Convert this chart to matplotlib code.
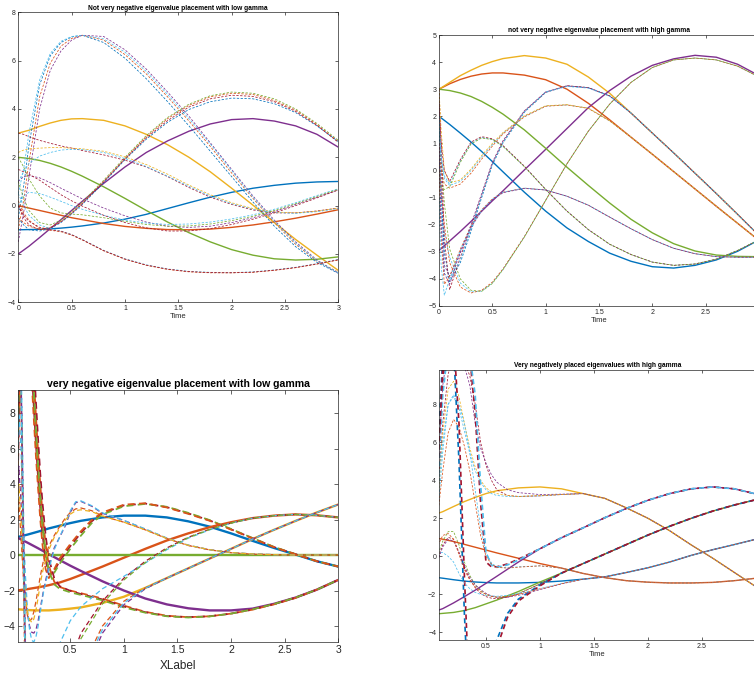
import matplotlib
matplotlib.use("Agg")
import matplotlib.pyplot as plt

plt.rcParams['font.family'] = ['Liberation Sans', 'DejaVu Sans']

# MATLAB default colour order
C_BLUE, C_ORANGE, C_YELLOW = '#0072BD', '#D95319', '#EDB120'
C_PURPLE, C_GREEN, C_LBLUE, C_RED = '#7E2F8E', '#77AC30', '#4DBEEE', '#A2142F'

# ---------------- common time grid of the true states ----------------
t_true = [0, 0.1, 0.2, 0.3, 0.4, 0.5, 0.6, 0.8, 1.0, 1.2, 1.4, 1.6, 1.8, 2.0, 2.2, 2.4, 2.6, 2.8, 3.0]

# ---------------- panel 1 : not very negative, low gamma ----------------
p1_blue   = [-1.0, -0.99, -0.98, -0.96, -0.93, -0.89, -0.84, -0.72, -0.56, -0.36, -0.12, 0.12, 0.35, 0.55, 0.72, 0.84, 0.93, 0.98, 1.0]
p1_orange = [0.0, -0.1, -0.2, -0.3, -0.4, -0.5, -0.58, -0.74, -0.86, -0.94, -0.99, -1.0, -0.97, -0.9, -0.8, -0.67, -0.52, -0.35, -0.17]
p1_yellow = [3.0, 3.12, 3.28, 3.42, 3.53, 3.59, 3.6, 3.53, 3.3, 2.95, 2.52, 2.0, 1.4, 0.72, 0.02, -0.7, -1.4, -2.05, -2.68]
p1_purple = [-2.0, -1.68, -1.32, -0.95, -0.58, -0.2, 0.18, 0.92, 1.6, 2.2, 2.68, 3.08, 3.38, 3.56, 3.6, 3.5, 3.3, 2.95, 2.42]
p1_green  = [2.0, 1.95, 1.87, 1.75, 1.6, 1.42, 1.22, 0.78, 0.3, -0.2, -0.68, -1.12, -1.5, -1.82, -2.05, -2.2, -2.25, -2.22, -2.12]

t_est1 = [0, 0.05, 0.1, 0.2, 0.3, 0.4, 0.5, 0.6, 0.8, 1.0, 1.2, 1.4, 1.6, 1.8, 2.0, 2.2, 2.4, 2.6, 2.8, 3.0]
p1_A1 = [-0.5, 0.8, 2.5, 5.0, 6.2, 6.75, 6.98, 7.05, 6.75, 6.1, 5.25, 4.3, 3.3, 2.25, 1.2, 0.15, -0.85, -1.7, -2.35, -2.8]
p1_A2 = [-1.0, 0.2, 1.8, 4.5, 5.9, 6.6, 6.92, 7.05, 6.85, 6.25, 5.45, 4.5, 3.5, 2.45, 1.35, 0.3, -0.7, -1.6, -2.3, -2.75]
p1_A3 = [-1.5, -0.3, 1.2, 4.0, 5.6, 6.4, 6.85, 7.05, 7.0, 6.45, 5.65, 4.7, 3.7, 2.6, 1.5, 0.4, -0.6, -1.5, -2.25, -2.8]
p1_A4 = [0.5, 1.5, 3.0, 5.2, 6.3, 6.8, 7.0, 7.05, 6.9, 6.35, 5.55, 4.6, 3.6, 2.55, 1.45, 0.35, -0.65, -1.55, -2.28, -2.78]
p1_B1 = [1.0, 0.3, -0.2, -0.7, -0.8, -0.6, -0.25, 0.15, 1.05, 2.0, 2.9, 3.65, 4.2, 4.55, 4.7, 4.65, 4.42, 4.0, 3.4, 2.7]
p1_B2 = [0.2, -0.3, -0.6, -0.95, -0.9, -0.65, -0.3, 0.1, 1.0, 1.95, 2.85, 3.6, 4.15, 4.5, 4.65, 4.6, 4.35, 3.95, 3.35, 2.65]
p1_B3 = [-0.5, -0.8, -1.0, -1.05, -0.95, -0.7, -0.35, 0.05, 0.95, 1.9, 2.75, 3.45, 3.98, 4.3, 4.45, 4.42, 4.22, 3.85, 3.3, 2.65]
p1_B4 = [0.0, -0.5, -0.8, -1.0, -0.92, -0.68, -0.32, 0.08, 0.98, 1.93, 2.8, 3.52, 4.08, 4.42, 4.57, 4.52, 4.3, 3.9, 3.32, 2.62]
p1_C1 = [3.0, 2.95, 2.85, 2.7, 2.58, 2.47, 2.38, 2.28, 2.1, 1.88, 1.6, 1.2, 0.75, 0.35, 0.05, -0.18, -0.3, -0.3, -0.22, -0.1]
p1_C2 = [1.0, 1.4, 1.75, 2.05, 2.2, 2.3, 2.33, 2.32, 2.2, 1.95, 1.62, 1.22, 0.8, 0.4, 0.08, -0.15, -0.28, -0.32, -0.25, -0.12]
p1_C3 = [2.2, 2.3, 2.35, 2.38, 2.4, 2.4, 2.38, 2.35, 2.25, 2.02, 1.7, 1.3, 0.85, 0.45, 0.12, -0.12, -0.26, -0.3, -0.23, -0.1]
p1_D1 = [0.5, 0.0, -0.4, -0.8, -0.95, -1.05, -1.2, -1.4, -1.85, -2.2, -2.45, -2.62, -2.72, -2.76, -2.77, -2.74, -2.66, -2.55, -2.4, -2.22]
p1_D2 = [-0.5, -0.7, -0.85, -0.98, -1.02, -1.08, -1.22, -1.42, -1.87, -2.22, -2.47, -2.64, -2.74, -2.78, -2.78, -2.76, -2.68, -2.57, -2.42, -2.25]
p1_D3 = [0.0, -0.4, -0.65, -0.9, -1.0, -1.06, -1.2, -1.41, -1.86, -2.21, -2.46, -2.63, -2.73, -2.77, -2.78, -2.75, -2.67, -2.56, -2.41, -2.24]
p1_E1 = [1.0, 1.2, 1.25, 1.15, 0.95, 0.72, 0.5, 0.28, -0.1, -0.42, -0.68, -0.85, -0.9, -0.85, -0.7, -0.5, -0.25, 0.05, 0.35, 0.65]
p1_E2 = [0.0, 0.4, 0.55, 0.5, 0.35, 0.18, 0.0, -0.15, -0.4, -0.6, -0.72, -0.78, -0.76, -0.68, -0.55, -0.38, -0.15, 0.12, 0.42, 0.7]
p1_E3 = [1.5, 1.4, 1.3, 1.05, 0.75, 0.45, 0.2, -0.02, -0.4, -0.7, -0.92, -1.05, -1.05, -0.95, -0.78, -0.56, -0.3, 0.0, 0.32, 0.65]
p1_E4 = [2.0, 1.6, 1.1, 0.4, -0.1, -0.3, -0.35, -0.38, -0.5, -0.65, -0.78, -0.85, -0.84, -0.76, -0.62, -0.44, -0.2, 0.08, 0.38, 0.68]

# ---------------- panel 2 : not very negative, high gamma ----------------
p2_blue   = [2.0, 1.7, 1.38, 1.05, 0.7, 0.33, -0.05, -0.8, -1.5, -2.12, -2.62, -3.05, -3.35, -3.55, -3.6, -3.5, -3.3, -2.98, -2.56]
p2_orange = [3.0, 3.2, 3.36, 3.48, 3.56, 3.6, 3.6, 3.52, 3.35, 3.0, 2.48, 1.87, 1.23, 0.6, -0.04, -0.68, -1.32, -1.95, -2.58]
p2_yellow = [3.0, 3.25, 3.5, 3.7, 3.88, 4.02, 4.13, 4.24, 4.15, 3.92, 3.45, 2.85, 2.12, 1.38, 0.65, -0.1, -0.85, -1.62, -2.4]
p2_purple = [-2.95, -2.6, -2.25, -1.88, -1.5, -1.12, -0.75, 0.02, 0.78, 1.55, 2.32, 2.95, 3.48, 3.88, 4.12, 4.25, 4.18, 3.92, 3.5]
p2_green  = [3.0, 2.95, 2.86, 2.73, 2.55, 2.33, 2.08, 1.5, 0.82, 0.12, -0.55, -1.2, -1.8, -2.3, -2.7, -2.97, -3.12, -3.17, -3.18]

t_est2 = [0, 0.02, 0.05, 0.1, 0.2, 0.3, 0.4, 0.5, 0.6, 0.8, 1.0, 1.2, 1.4, 1.6, 1.8, 2.0, 2.2, 2.4, 2.6, 2.8, 3.0]
p2_P1 = [-1.0, -1.6, -2.3, -3.2, -4.15, -4.48, -4.45, -4.15, -3.65, -2.45, -1.1, 0.25, 1.45, 2.45, 3.25, 3.8, 4.08, 4.15, 4.08, 3.85, 3.45]
p2_P2 = [0.5, -0.8, -2.0, -3.4, -4.3, -4.52, -4.42, -4.12, -3.63, -2.44, -1.1, 0.25, 1.45, 2.45, 3.25, 3.8, 4.08, 4.15, 4.08, 3.85, 3.45]
p2_P3 = [2.0, 0.5, -1.2, -2.9, -4.0, -4.42, -4.46, -4.17, -3.66, -2.46, -1.1, 0.25, 1.45, 2.45, 3.25, 3.8, 4.08, 4.15, 4.08, 3.85, 3.45]
p2_Q1 = [3.0, 0.0, -3.5, -3.9, -3.05, -2.0, -0.85, 0.3, 1.1, 2.2, 2.9, 3.12, 3.05, 2.75, 2.12, 1.38, 0.65, -0.1, -0.85, -1.62, -2.4]
p2_Q2 = [2.0, -1.0, -3.0, -4.1, -3.4, -2.25, -1.0, 0.2, 1.02, 2.15, 2.88, 3.12, 3.06, 2.76, 2.12, 1.38, 0.65, -0.1, -0.85, -1.62, -2.4]
p2_Q3 = [3.0, 1.0, -2.5, -4.4, -3.2, -2.1, -0.92, 0.25, 1.06, 2.18, 2.89, 3.13, 3.06, 2.75, 2.12, 1.38, 0.65, -0.1, -0.85, -1.62, -2.4]
p2_Q4 = [1.0, -1.5, -3.8, -4.0, -3.3, -2.15, -0.95, 0.22, 1.04, 2.16, 2.9, 3.1, 3.04, 2.74, 2.12, 1.38, 0.65, -0.1, -0.85, -1.62, -2.4]
p2_R1 = [2.0, 0.5, -0.3, -0.55, -0.4, 0.0, 0.5, 0.95, 1.38, 2.0, 2.38, 2.42, 2.3, 1.83, 1.23, 0.6, -0.04, -0.68, -1.32, -1.95, -2.58]
p2_R2 = [1.0, 0.0, -0.5, -0.65, -0.5, -0.1, 0.42, 0.9, 1.35, 1.98, 2.37, 2.42, 2.29, 1.83, 1.23, 0.6, -0.04, -0.68, -1.32, -1.95, -2.58]
p2_R3 = [3.0, 1.5, 0.0, -0.45, -0.35, 0.05, 0.55, 1.0, 1.4, 2.02, 2.39, 2.43, 2.3, 1.84, 1.23, 0.6, -0.04, -0.68, -1.32, -1.95, -2.58]
p2_S1 = [1.5, 0.5, -0.2, -0.5, 0.35, 1.0, 1.22, 1.15, 0.9, 0.15, -0.7, -1.5, -2.18, -2.72, -3.1, -3.38, -3.5, -3.45, -3.27, -2.95, -2.56]
p2_S2 = [2.5, 1.0, 0.0, -0.4, 0.4, 1.05, 1.25, 1.17, 0.92, 0.16, -0.7, -1.5, -2.18, -2.72, -3.1, -3.38, -3.5, -3.45, -3.27, -2.95, -2.56]
p2_S3 = [0.0, -0.6, -0.7, -0.6, 0.3, 0.98, 1.2, 1.14, 0.89, 0.14, -0.7, -1.5, -2.18, -2.72, -3.1, -3.38, -3.5, -3.45, -3.27, -2.95, -2.56]
p2_U1 = [0.0, -2.5, -4.2, -3.9, -2.9, -2.05, -1.45, -1.05, -0.8, -0.65, -0.72, -0.95, -1.28, -1.72, -2.15, -2.55, -2.87, -3.07, -3.18, -3.2, -3.2]
p2_U2 = [-1.0, -3.5, -4.6, -4.0, -2.95, -2.08, -1.47, -1.06, -0.8, -0.65, -0.72, -0.95, -1.28, -1.72, -2.15, -2.55, -2.87, -3.07, -3.18, -3.2, -3.2]
p2_U3 = [1.0, -2.0, -3.8, -4.2, -3.0, -2.1, -1.5, -1.08, -0.82, -0.66, -0.72, -0.95, -1.28, -1.72, -2.15, -2.55, -2.87, -3.07, -3.18, -3.2, -3.2]

# ---------------- panel 3 : very negative, low gamma ----------------
p3_blue   = [1.0, 1.15, 1.32, 1.5, 1.65, 1.8, 1.93, 2.12, 2.22, 2.22, 2.12, 1.9, 1.6, 1.22, 0.8, 0.4, 0.03, -0.35, -0.65]
p3_orange = [-2.0, -1.92, -1.82, -1.7, -1.55, -1.35, -1.12, -0.65, -0.15, 0.35, 0.82, 1.22, 1.57, 1.85, 2.08, 2.22, 2.29, 2.24, 2.12]
p3_yellow = [-3.05, -3.1, -3.12, -3.12, -3.08, -3.02, -2.95, -2.7, -2.35, -1.85, -1.3, -0.75, -0.2, 0.35, 0.9, 1.42, 1.92, 2.4, 2.85]
p3_purple = [1.0, 0.7, 0.38, 0.05, -0.28, -0.6, -0.9, -1.48, -2.0, -2.45, -2.78, -3.0, -3.12, -3.12, -3.02, -2.75, -2.4, -1.95, -1.4]
p3_green  = [0.0, 0.0, 0.0, 0.0, 0.0, 0.0, 0.0, 0.0, 0.0, 0.0, 0.0, 0.0, 0.0, 0.0, 0.0, 0.0, 0.0, 0.0, 0.0]

t_p3N = [0, 0.02, 0.04, 0.08, 0.12, 0.14, 0.16, 0.18, 0.2, 0.22, 0.24, 0.27, 0.3, 0.35, 0.4, 0.5, 0.6, 0.7, 0.8, 1.0, 1.2, 1.4, 1.6, 1.8, 2.0, 2.2, 2.4, 2.6, 2.8, 3.0]
p3_N1 = [4.0, 9.0, 13.0, 14.0, 12.5, 10.5, 8.3, 6.2, 4.3, 2.6, 1.2, -0.3, -1.1, -0.9, -0.35, 0.5, 1.25, 1.9, 2.35, 2.8, 2.9, 2.7, 2.35, 1.95, 1.45, 0.95, 0.45, 0.05, -0.35, -0.65]
p3_N2 = [3.0, 8.5, 12.5, 14.0, 13.0, 11.2, 9.0, 6.9, 4.9, 3.1, 1.6, 0.0, -0.9, -1.0, -0.5, 0.35, 1.1, 1.8, 2.28, 2.75, 2.88, 2.72, 2.38, 1.97, 1.47, 0.96, 0.46, 0.05, -0.35, -0.65]
p3_N3 = [5.0, 9.5, 13.5, 14.0, 12.0, 9.8, 7.6, 5.5, 3.7, 2.0, 0.6, -0.8, -1.3, -0.8, -0.2, 0.62, 1.35, 1.98, 2.4, 2.84, 2.92, 2.68, 2.32, 1.93, 1.43, 0.94, 0.44, 0.05, -0.35, -0.65]
p3_M1 = [2.5, 8.0, 12.0, 14.0, 13.5, 12.0, 10.0, 7.8, 5.8, 4.0, 2.4, 0.6, -0.6, -1.5, -1.8, -2.0, -2.15, -2.3, -2.45, -2.85, -3.2, -3.42, -3.5, -3.45, -3.3, -3.08, -2.78, -2.42, -1.95, -1.4]
p3_M2 = [1.5, 7.0, 11.0, 13.5, 14.0, 12.8, 10.8, 8.6, 6.5, 4.6, 3.0, 1.1, -0.2, -1.3, -1.75, -2.02, -2.2, -2.35, -2.5, -2.9, -3.22, -3.44, -3.5, -3.45, -3.3, -3.06, -2.76, -2.4, -1.95, -1.4]
p3_M3 = [3.5, 9.0, 13.0, 14.0, 13.0, 11.3, 9.2, 7.0, 5.0, 3.3, 1.8, 0.2, -0.9, -1.65, -1.9, -2.1, -2.25, -2.4, -2.55, -2.95, -3.25, -3.45, -3.52, -3.46, -3.3, -3.06, -2.76, -2.4, -1.95, -1.4]

t_p3O = [0, 0.02, 0.04, 0.06, 0.08, 0.1, 0.12, 0.14, 0.16, 0.18, 0.2, 0.22, 0.25, 0.3, 0.35, 0.4, 0.45, 0.5, 0.55, 0.6, 0.7, 0.8, 1.0, 1.2, 1.4, 1.6, 1.8, 2.0, 2.2, 2.4, 2.6, 2.8, 3.0]
p3_O1 = [2.0, 5.0, 3.0, 0.0, -2.0, -3.3, -4.0, -4.35, -4.4, -4.2, -3.7, -3.0, -2.0, -0.6, 0.4, 1.0, 1.6, 2.4, 2.95, 3.02, 2.75, 2.35, 1.95, 1.45, 0.95, 0.55, 0.3, 0.14, 0.06, 0.02, 0.0, 0.0, 0.0]
p3_O2 = [1.0, 3.0, 1.0, -1.0, -2.5, -3.4, -3.7, -3.6, -3.2, -2.6, -1.9, -1.2, -0.3, 0.5, 1.1, 1.6, 2.05, 2.4, 2.6, 2.65, 2.5, 2.2, 1.85, 1.42, 0.93, 0.54, 0.29, 0.13, 0.05, 0.02, 0.0, 0.0, 0.0]
p3_O3 = [3.0, 8.0, 6.0, 2.0, -1.0, -3.0, -4.2, -4.8, -4.9, -4.6, -4.0, -3.2, -2.1, -0.8, 0.3, 1.0, 1.7, 2.5, 3.0, 3.05, 2.78, 2.38, 1.95, 1.47, 0.96, 0.56, 0.3, 0.14, 0.06, 0.02, 0.0, 0.0, 0.0]
p3_O4 = [1.5, 4.0, 2.0, -0.5, -2.2, -3.2, -3.6, -3.8, -3.6, -3.1, -2.4, -1.6, -0.7, 0.3, 1.0, 1.5, 1.95, 2.3, 2.5, 2.55, 2.45, 2.2, 1.85, 1.42, 0.94, 0.55, 0.3, 0.14, 0.06, 0.02, 0.0, 0.0, 0.0]

t_p3L = [0, 0.01, 0.03, 0.05, 0.1, 0.2, 0.3, 0.4, 0.5, 0.6, 0.8, 1.0, 1.2, 1.4, 1.6, 1.8, 2.0, 2.2, 2.4, 2.6, 2.8, 3.0]
p3_L1a = [1.0, 12.0, 14.0, 5.0, -15.0, -20.0, -14.0, -9.0, -6.0, -4.4, -2.6, -1.3, -0.35, 0.4, 1.0, 1.45, 1.8, 2.08, 2.22, 2.29, 2.24, 2.12]
p3_L1b = [-1.0, 10.0, 14.0, 8.0, -12.0, -14.0, -8.0, -5.0, -3.7, -2.9, -1.9, -1.2, -0.45, 0.3, 0.95, 1.42, 1.8, 2.08, 2.22, 2.29, 2.24, 2.12]
p3_L1c = [0.0, 11.0, 14.0, 6.0, -14.0, -20.0, -15.0, -9.8, -6.5, -4.7, -2.75, -1.4, -0.42, 0.35, 0.98, 1.44, 1.8, 2.08, 2.22, 2.29, 2.24, 2.12]
p3_L2a = [-2.0, 13.0, 14.0, 4.0, -16.0, -22.0, -18.0, -12.0, -8.5, -6.5, -4.0, -2.6, -1.85, -1.3, -0.75, -0.2, 0.35, 0.9, 1.42, 1.92, 2.4, 2.85]
p3_L2b = [-3.0, 11.0, 14.0, 7.0, -13.0, -22.0, -19.0, -13.0, -9.5, -7.2, -4.4, -2.8, -1.9, -1.3, -0.75, -0.2, 0.35, 0.9, 1.42, 1.92, 2.4, 2.85]
p3_L2c = [-1.0, 12.0, 14.0, 5.0, -15.0, -22.0, -18.5, -12.5, -9.0, -6.8, -4.2, -2.7, -1.87, -1.3, -0.75, -0.2, 0.35, 0.9, 1.42, 1.92, 2.4, 2.85]

# ---------------- panel 4 : very negative, high gamma ----------------
p4_blue   = [-1.08, -1.15, -1.23, -1.3, -1.35, -1.38, -1.4, -1.4, -1.37, -1.3, -1.2, -1.08, -0.85, -0.6, -0.3, 0.05, 0.35, 0.62, 0.9]
p4_orange = [1.0, 0.9, 0.78, 0.63, 0.48, 0.33, 0.18, -0.1, -0.38, -0.62, -0.9, -1.12, -1.28, -1.36, -1.4, -1.4, -1.37, -1.28, -1.15]
p4_yellow = [2.15, 2.35, 2.62, 2.88, 3.1, 3.3, 3.45, 3.6, 3.65, 3.55, 3.3, 3.05, 2.55, 2.0, 1.35, 0.6, -0.1, -0.85, -1.6]
p4_purple = [-2.95, -2.75, -2.45, -2.12, -1.78, -1.42, -1.05, -0.3, 0.4, 0.98, 1.5, 2.03, 2.52, 2.95, 3.3, 3.55, 3.65, 3.55, 3.28]
p4_green  = [-3.05, -3.0, -2.95, -2.85, -2.7, -2.5, -2.3, -1.85, -1.35, -0.88, -0.38, 0.12, 0.62, 1.12, 1.58, 2.0, 2.38, 2.7, 2.98]

t_est4 = [0, 0.05, 0.1, 0.15, 0.2, 0.25, 0.3, 0.35, 0.4, 0.45, 0.5, 0.55, 0.6, 0.7, 0.8, 1.0, 1.2, 1.4, 1.6, 1.8, 2.0, 2.2, 2.4, 2.6, 2.8, 3.0]
p4_Gy1 = [0.0, 2.0, 5.5, 8.0, 8.4, 7.8, 6.6, 5.4, 4.5, 3.9, 3.5, 3.3, 3.2, 3.15, 3.15, 3.18, 3.25, 3.3, 3.05, 2.55, 2.0, 1.35, 0.6, -0.1, -0.85, -1.6]
p4_Gy2 = [0.0, 3.0, 7.0, 9.6, 10.5, 10.5, 10.2, 9.5, 8.0, 6.0, 4.8, 4.0, 3.5, 3.2, 3.15, 3.18, 3.25, 3.3, 3.05, 2.55, 2.0, 1.35, 0.6, -0.1, -0.85, -1.6]
p4_Gy3 = [0.0, 4.0, 9.0, 11.0, 11.0, 10.7, 10.0, 9.0, 7.0, 5.7, 4.9, 4.3, 3.9, 3.5, 3.35, 3.25, 3.27, 3.3, 3.05, 2.55, 2.0, 1.35, 0.6, -0.1, -0.85, -1.6]
p4_Gy4 = [0.0, 2.5, 6.5, 8.8, 9.2, 8.4, 7.0, 5.7, 4.7, 4.0, 3.6, 3.4, 3.3, 3.2, 3.15, 3.2, 3.25, 3.3, 3.05, 2.55, 2.0, 1.35, 0.6, -0.1, -0.85, -1.6]
p4_Gp1 = [-1.0, 4.0, 9.5, 11.0, 11.0, 10.8, 10.5, 10.5, 7.5, 2.8, -0.3, -0.55, -0.55, -0.4, -0.15, 0.4, 0.98, 1.5, 2.03, 2.52, 2.95, 3.3, 3.55, 3.65, 3.55, 3.28]
p4_Gp2 = [-1.0, 3.0, 8.5, 11.0, 11.0, 11.0, 10.8, 10.6, 8.5, 3.8, 0.2, -0.45, -0.58, -0.45, -0.2, 0.4, 0.98, 1.5, 2.03, 2.52, 2.95, 3.3, 3.55, 3.65, 3.55, 3.28]
p4_Go1 = [1.0, 3.0, 6.0, 8.0, 8.5, 8.0, 7.0, 5.5, 3.5, 1.5, 0.2, -0.35, -0.55, -0.6, -0.55, -0.5, -0.62, -0.9, -1.12, -1.28, -1.36, -1.4, -1.4, -1.37, -1.28, -1.15]
p4_Go2 = [0.5, 2.0, 4.5, 6.5, 7.2, 6.8, 5.8, 4.5, 2.8, 1.1, 0.0, -0.4, -0.58, -0.62, -0.57, -0.5, -0.62, -0.9, -1.12, -1.28, -1.36, -1.4, -1.4, -1.37, -1.28, -1.15]
p4_Gg1 = [-1.0, 0.0, 0.8, 1.3, 1.3, 0.6, -0.3, -1.0, -1.5, -1.8, -2.0, -2.1, -2.15, -2.1, -1.95, -1.45, -0.88, -0.38, 0.12, 0.62, 1.12, 1.58, 2.0, 2.38, 2.7, 2.98]
p4_Gg2 = [-1.0, -0.2, 0.6, 1.0, 0.9, 0.2, -0.6, -1.2, -1.65, -1.95, -2.12, -2.2, -2.22, -2.15, -1.98, -1.45, -0.88, -0.38, 0.12, 0.62, 1.12, 1.58, 2.0, 2.38, 2.7, 2.98]
p4_Gg3 = [-1.0, 5.0, 10.5, 11.5, 11.0, 5.0, -3.0, -9.0, -12.0, -11.0, -8.5, -6.0, -4.4, -3.0, -2.25, -1.5, -0.88, -0.38, 0.12, 0.62, 1.12, 1.58, 2.0, 2.38, 2.7, 2.98]
p4_Gg4 = [-1.0, 4.0, 10.0, 11.5, 11.5, 7.0, -1.0, -8.0, -12.0, -11.5, -9.0, -6.5, -4.8, -3.2, -2.35, -1.55, -0.88, -0.38, 0.12, 0.62, 1.12, 1.58, 2.0, 2.38, 2.7, 2.98]
p4_Gb1 = [-1.0, -0.3, 0.5, 0.9, 0.8, 0.2, -0.5, -1.1, -1.5, -1.75, -1.95, -2.08, -2.15, -2.15, -2.05, -1.75, -1.45, -1.2, -1.08, -0.85, -0.6, -0.3, 0.05, 0.35, 0.62, 0.9]
p4_Gb2 = [-1.0, 0.2, 0.2, 0.0, -0.3, -0.9, -1.4, -1.7, -1.9, -2.0, -2.05, -2.08, -2.1, -2.05, -1.95, -1.7, -1.42, -1.2, -1.08, -0.85, -0.6, -0.3, 0.05, 0.35, 0.62, 0.9]
p4_Gb3 = [-1.0, 0.5, 1.1, 1.2, 0.9, 0.1, -0.7, -1.25, -1.6, -1.85, -2.0, -2.1, -2.15, -2.12, -2.0, -1.72, -1.44, -1.2, -1.08, -0.85, -0.6, -0.3, 0.05, 0.35, 0.62, 0.9]

# ---------------- text ----------------
titles = ["Not very negative eigenvalue placement with low gamma",
          "not very negative eigenvalue placement with high gamma",
          "very negative eigenvalue placement with low gamma",
          "Very negatively placed eigenvalues with high gamma"]
xlabels = ["Time", "Time", "XLabel", "Time"]
xt_full = [0, 0.5, 1, 1.5, 2, 2.5, 3]
xt_full_lbl = ['0', '0.5', '1', '1.5', '2', '2.5', '3']
xt_cut = [0, 0.5, 1, 1.5, 2, 2.5]
xt_cut_lbl = ['0', '0.5', '1', '1.5', '2', '2.5']
yt_even = [-4, -2, 0, 2, 4, 6, 8]
yt_unit = [-5, -4, -3, -2, -1, 0, 1, 2, 3, 4, 5]

W, H = 754, 677
fig = plt.figure(figsize=(W / 100, H / 100), dpi=100)


def px_axes(x0, x1, ytop, ybot):
    return fig.add_axes([x0 / W, 1 - ybot / H, (x1 - x0) / W, (ybot - ytop) / H])


ax1 = px_axes(18.3, 338.3, 12.3, 302.3)
ax2 = px_axes(439, 759, 35, 306)
ax3 = px_axes(18.3, 338.3, 390, 642)
ax4 = px_axes(439, 756, 370, 640)

AXC = '#262626'


def style(ax, fs, tick_len, right=True):
    for s in ax.spines.values():
        s.set_color(AXC)
        s.set_linewidth(0.5)
    ax.tick_params(direction='in', top=True, right=right, length=tick_len, width=0.5,
                   colors=AXC, labelsize=fs, pad=2)


def draw(ax, t, solids, ests, lw_s, lw_d, dash):
    cols = [C_BLUE, C_ORANGE, C_YELLOW, C_PURPLE, C_GREEN]
    for y, c in zip(solids, cols):
        ax.plot(t, y, color=c, lw=lw_s, solid_capstyle='butt')
    for tt, y, c, w in ests:
        ax.plot(tt, y, color=c, lw=lw_d * w, dashes=dash)


# panel 1
draw(ax1, t_true, [p1_blue, p1_orange, p1_yellow, p1_purple, p1_green],
     [(t_est1, p1_A1, C_BLUE, 1), (t_est1, p1_A2, C_ORANGE, 1), (t_est1, p1_A3, C_PURPLE, 1), (t_est1, p1_A4, C_LBLUE, 1),
      (t_est1, p1_B1, C_GREEN, 1), (t_est1, p1_B2, C_ORANGE, 1), (t_est1, p1_B3, C_BLUE, 1), (t_est1, p1_B4, C_RED, 1),
      (t_est1, p1_C1, C_RED, 1), (t_est1, p1_C2, C_LBLUE, 1), (t_est1, p1_C3, C_YELLOW, 1),
      (t_est1, p1_D1, C_LBLUE, 1), (t_est1, p1_D2, C_ORANGE, 1), (t_est1, p1_D3, C_RED, 1),
      (t_est1, p1_E1, C_PURPLE, 1), (t_est1, p1_E2, C_LBLUE, 1), (t_est1, p1_E3, C_RED, 1), (t_est1, p1_E4, C_GREEN, 1)],
     1.0, 0.55, (3, 2))
ax1.set_xlim(0, 3)
ax1.set_ylim(-4, 8)
ax1.set_xticks(xt_full)
ax1.set_xticklabels(xt_full_lbl)
ax1.set_yticks(yt_even)
style(ax1, 5, 2)

# panel 2
draw(ax2, t_true, [p2_blue, p2_orange, p2_yellow, p2_purple, p2_green],
     [(t_est2, p2_P1, C_LBLUE, 1), (t_est2, p2_P2, C_ORANGE, 1), (t_est2, p2_P3, C_GREEN, 1),
      (t_est2, p2_Q1, C_PURPLE, 1), (t_est2, p2_Q2, C_BLUE, 1), (t_est2, p2_Q3, C_RED, 1), (t_est2, p2_Q4, C_LBLUE, 1),
      (t_est2, p2_R1, C_LBLUE, 1), (t_est2, p2_R2, C_ORANGE, 1), (t_est2, p2_R3, C_YELLOW, 1),
      (t_est2, p2_S1, C_LBLUE, 1), (t_est2, p2_S2, C_RED, 1), (t_est2, p2_S3, C_GREEN, 1),
      (t_est2, p2_U1, C_ORANGE, 1), (t_est2, p2_U2, C_LBLUE, 1), (t_est2, p2_U3, C_PURPLE, 1)],
     1.0, 0.55, (3, 2))
ax2.set_xlim(0, 3)
ax2.set_ylim(-5, 5)
ax2.set_xticks(xt_cut)
ax2.set_xticklabels(xt_cut_lbl)
ax2.set_yticks(yt_unit)
style(ax2, 5, 2, right=False)

# panel 3
draw(ax3, t_true, [p3_blue, p3_orange, p3_yellow, p3_purple, p3_green],
     [(t_p3N, p3_N1, C_RED, 1.4), (t_p3N, p3_N2, C_GREEN, 1.4), (t_p3N, p3_N3, C_ORANGE, 1.4),
      (t_p3N, p3_M1, C_ORANGE, 1.4), (t_p3N, p3_M2, C_RED, 1.4), (t_p3N, p3_M3, C_GREEN, 1.4),
      (t_p3O, p3_O1, C_PURPLE, 1), (t_p3O, p3_O2, C_ORANGE, 1), (t_p3O, p3_O3, C_LBLUE, 1), (t_p3O, p3_O4, C_YELLOW, 1),
      (t_p3L, p3_L1a, C_RED, 1), (t_p3L, p3_L1b, C_LBLUE, 1), (t_p3L, p3_L1c, C_GREEN, 1),
      (t_p3L, p3_L2a, C_ORANGE, 1), (t_p3L, p3_L2b, C_PURPLE, 1), (t_p3L, p3_L2c, C_LBLUE, 1)],
     1.7, 0.9, (4, 2.5))
ax3.set_xlim(0.015, 3)
ax3.set_ylim(-4.9, 9.3)
ax3.set_xticks(xt_full[1:])
ax3.set_xticklabels(xt_full_lbl[1:])
ax3.set_yticks(yt_even)
style(ax3, 7.5, 3)

# panel 4
draw(ax4, t_true, [p4_blue, p4_orange, p4_yellow, p4_purple, p4_green],
     [(t_est4, p4_Gy1, C_LBLUE, 1), (t_est4, p4_Gy2, C_RED, 1), (t_est4, p4_Gy3, C_PURPLE, 1), (t_est4, p4_Gy4, C_YELLOW, 1),
      (t_est4, p4_Gp1, C_RED, 2.2), (t_est4, p4_Gp2, C_LBLUE, 2.2),
      (t_est4, p4_Go1, C_LBLUE, 1), (t_est4, p4_Go2, C_ORANGE, 1),
      (t_est4, p4_Gg1, C_GREEN, 1), (t_est4, p4_Gg2, C_RED, 1), (t_est4, p4_Gg3, C_BLUE, 2.2), (t_est4, p4_Gg4, C_RED, 2.2),
      (t_est4, p4_Gb1, C_PURPLE, 1), (t_est4, p4_Gb2, C_LBLUE, 1), (t_est4, p4_Gb3, C_ORANGE, 1)],
     1.0, 0.55, (3, 2))
ax4.set_xlim(0.065, 3)
ax4.set_ylim(-4.4, 9.8)
ax4.set_xticks(xt_cut[1:])
ax4.set_xticklabels(xt_cut_lbl[1:])
ax4.set_yticks(yt_even)
style(ax4, 5, 2, right=False)

for ax, ttl, xl, fs_t, fs_x, lp in [(ax1, titles[0], xlabels[0], 4.8, 5.5, 1),
                                    (ax2, titles[1], xlabels[1], 4.8, 5.5, 1),
                                    (ax3, titles[2], xlabels[2], 7.6, 8.5, 4),
                                    (ax4, titles[3], xlabels[3], 4.8, 5.5, 1)]:
    ax.set_title(ttl, fontsize=fs_t, fontweight='bold', color='black', pad=2)
    ax.set_xlabel(xl, fontsize=fs_x, color=AXC, labelpad=lp)

fig.savefig('out.png', dpi=100)
